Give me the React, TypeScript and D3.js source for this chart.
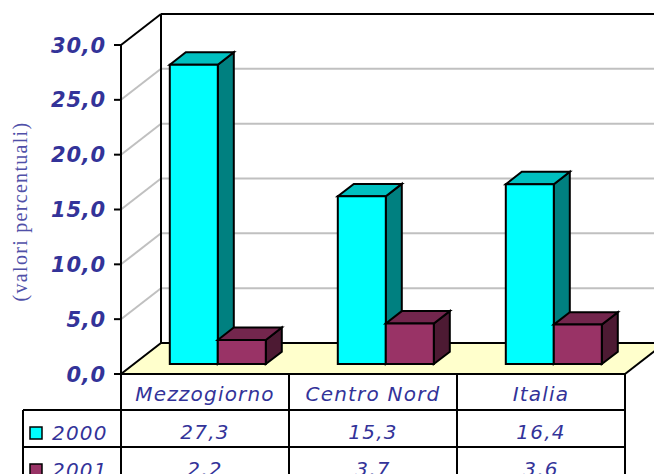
import * as d3 from 'd3';

const categories = ['Mezzogiorno', 'Centro Nord', 'Italia'];
const seriesNames = ['2000', '2001'];
const values2000 = [27.3, 15.3, 16.4];
const values2001 = [2.2, 3.7, 3.6];
const yTicks = [0, 5, 10, 15, 20, 25, 30];
const yTitle = '(valori percentuali)';

const W = 654;
const H = 474;
const textColor = '#333399';
const seriesColors = [
  { front: '#00ffff', top: '#00c0c0', side: '#008080' },
  { front: '#993366', top: '#73264d', side: '#4d1a33' },
];

// 3D projection of the depth axis
const depthX = 40;
const depthY = -31;
const barZ0 = 0.32;
const barZ1 = 0.72;

const fmt = (v: number) => v.toFixed(1).replace('.', ',');

export default function App() {
  const left = 121;
  const right = 625;
  const y = d3.scaleLinear([0, 30], [374, 45]);
  const x = d3.scaleBand(categories, [left, right]);
  const xs = d3
    .scaleBand(seriesNames, [0, x.bandwidth()])
    .paddingOuter(0.75);
  const series = [values2000, values2001];

  const floorY = y(0);
  const backY = (v: number) => y(v) + depthY;
  const backLeft = left + depthX;

  const rowTop = [374, 410, 447, 484];
  const tableLeft = 23;

  const face = (pts: [number, number][]) =>
    (d3.line()(pts) ?? '') + 'Z';

  return (
    <svg
      width={W}
      height={H}
      style={{ position: 'absolute', left: 0, top: 0, background: '#fff' }}
      fontFamily="'DejaVu Sans', Verdana, sans-serif"
    >
      {/* floor */}
      <path
        d={face([
          [left, floorY],
          [backLeft, floorY + depthY],
          [right + depthX + 40, floorY + depthY],
          [right + depthX, floorY + depthY],
          [right, floorY],
        ])}
        fill="#ffffcc"
        stroke="none"
      />
      <path
        d={
          d3.line()([
            [left, floorY],
            [backLeft, floorY + depthY],
            [W + 10, floorY + depthY],
          ]) ?? ''
        }
        fill="none"
        stroke="#000"
        strokeWidth={2}
      />
      <line
        x1={right}
        y1={floorY}
        x2={right + depthX}
        y2={floorY + depthY}
        stroke="#000"
        strokeWidth={2}
      />

      {/* gridlines */}
      {yTicks
        .filter((t) => t > 0 && t < 30)
        .map((t) => (
          <g key={t} stroke="#c0c0c0" strokeWidth={2}>
            <line x1={left} y1={y(t)} x2={backLeft} y2={backY(t)} />
            <line x1={backLeft} y1={backY(t)} x2={W + 10} y2={backY(t)} />
          </g>
        ))}

      {/* walls */}
      <g stroke="#000" strokeWidth={2} fill="none">
        <line x1={backLeft} y1={backY(30)} x2={backLeft} y2={backY(0)} />
        <line x1={left} y1={y(30)} x2={backLeft} y2={backY(30)} />
        <line x1={backLeft} y1={backY(30)} x2={W + 10} y2={backY(30)} />
        <line x1={left} y1={y(30)} x2={left} y2={y(0)} />
      </g>

      {/* y ticks and labels */}
      {yTicks.map((t) => (
        <g key={t}>
          <line x1={left - 7} y1={y(t)} x2={left} y2={y(t)} stroke="#000" strokeWidth={2} />
          <text
            x={106}
            y={y(t)}
            dy="0.36em"
            textAnchor="end"
            fontSize={21}
            fontWeight="bold"
            fontStyle="italic"
            letterSpacing={0.8}
            fill={textColor}
          >
            {fmt(t)}
          </text>
        </g>
      ))}

      <text
        transform={`translate(27,${(123 + 300) / 2}) rotate(-90)`}
        textAnchor="middle"
        fontFamily="'Liberation Serif', 'Times New Roman', serif"
        fontSize={20}
        letterSpacing={1.3}
        fill="#5050a8"
      >
        {yTitle}
      </text>

      {/* bars */}
      {categories.map((c, ci) => (
        <g key={c}>
          {seriesNames.map((s, si) => {
            const v = series[si][ci];
            const ox = barZ0 * depthX;
            const oy = barZ0 * depthY;
            const bx = (barZ1 - barZ0) * depthX;
            const by = (barZ1 - barZ0) * depthY;
            const x0 = (x(c) ?? 0) + (xs(s) ?? 0) + ox;
            const x1 = x0 + xs.bandwidth();
            const yb = y(0) + oy;
            const yt = y(v) + oy;
            const col = seriesColors[si];
            return (
              <g key={s} stroke="#000" strokeWidth={2} strokeLinejoin="miter">
                <path d={face([[x1, yb], [x1 + bx, yb + by], [x1 + bx, yt + by], [x1, yt]])} fill={col.side} />
                <path d={face([[x0, yt], [x0 + bx, yt + by], [x1 + bx, yt + by], [x1, yt]])} fill={col.top} />
                <path d={face([[x0, yb], [x1, yb], [x1, yt], [x0, yt]])} fill={col.front} />
              </g>
            );
          })}
        </g>
      ))}

      {/* data table */}
      <g stroke="#000" strokeWidth={2}>
        <line x1={left} y1={rowTop[0]} x2={right} y2={rowTop[0]} />
        {rowTop.slice(1, 3).map((ry) => (
          <line key={ry} x1={tableLeft} y1={ry} x2={right} y2={ry} />
        ))}
        <line x1={tableLeft} y1={rowTop[1]} x2={tableLeft} y2={H + 10} />
        {[left, ...categories.map((c) => (x(c) ?? 0) + x.bandwidth())].map((lx) => (
          <line key={lx} x1={lx} y1={rowTop[0]} x2={lx} y2={H + 10} />
        ))}
      </g>
      <g fill={textColor} fontSize={20} fontStyle="italic">
        {categories.map((c) => (
          <text
            key={c}
            x={(x(c) ?? 0) + x.bandwidth() / 2}
            y={rowTop[0] + 27}
            textAnchor="middle"
            letterSpacing={1.2}
          >
            {c}
          </text>
        ))}
        {seriesNames.map((s, si) => (
          <g key={s}>
            <rect
              x={30}
              y={rowTop[si + 1] + 17}
              width={12}
              height={12}
              fill={seriesColors[si].front}
              stroke="#000"
              strokeWidth={1.5}
            />
            <text x={52} y={rowTop[si + 1] + 30} letterSpacing={1.2}>
              {s}
            </text>
            {categories.map((c, ci) => (
              <text
                key={c}
                x={(x(c) ?? 0) + x.bandwidth() / 2}
                y={rowTop[si + 1] + 29}
                textAnchor="middle"
                letterSpacing={1.2}
              >
                {fmt(series[si][ci])}
              </text>
            ))}
          </g>
        ))}
      </g>
    </svg>
  );
}
